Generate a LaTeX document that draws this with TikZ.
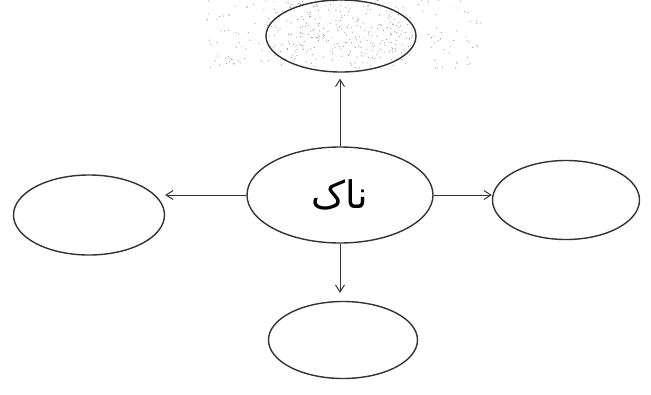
\documentclass[tikz,border=0pt]{standalone}
\usepackage{fontspec}
\usepackage{tikz}
\usetikzlibrary{shapes.geometric, arrows.meta, calc}
\newfontfamily\arabicfont[Script=Arabic]{DejaVu Sans}
\TeXXeTstate=1
\definecolor{inkgray}{HTML}{333333}
\tikzset{>={Straight Barb[length=7pt,width=9pt]}}
\tikzset{
  bubble/.style={draw=inkgray, line width=1.4pt, ellipse, inner sep=0pt},
  link/.style={->, draw=inkgray, line width=1pt}
}

\begin{document}
\begin{tikzpicture}[x=1pt, y=-1pt]
  \useasboundingbox (0,0) rectangle (651,394);
  % dust over the top bubble
  \pgfmathsetseed{7}
  \foreach \i in {1,...,260}{
    \pgfmathsetmacro{\px}{341+rand*140}
    \pgfmathsetmacro{\py}{28+rand*40}
    \fill[gray!75] (\px,\py) circle (0.6pt);
  }
  \foreach \i in {1,...,180}{
    \pgfmathsetmacro{\px}{341+rand*65}
    \pgfmathsetmacro{\py}{30+rand*30}
    \fill[gray!80] (\px,\py) circle (0.6pt);
  }
  \node[bubble, minimum width=150pt, minimum height=72pt] (top) at (341,36) {};
  \node[bubble, minimum width=186pt, minimum height=96pt] (nose) at (340,195)
    {\fontsize{38}{44}\selectfont\arabicfont\beginR ناک\endR};
  \node[bubble, minimum width=151pt, minimum height=80pt] (left) at (89,215) {};
  \node[bubble, minimum width=147pt, minimum height=79pt] (right) at (566,200) {};
  \node[bubble, minimum width=149pt, minimum height=77pt] (bottom) at (343,340) {};
  % links
  \draw[link] (nose.west) -- (left.east |- nose.west);
  \draw[link] (nose.east) -- (right.west |- nose.east);
  \draw[link, shorten >=6pt] (nose.north) -- (top.south -| nose.north);
  \draw[link, shorten >=8pt] (nose.south) -- (bottom.north -| nose.south);
\end{tikzpicture}
\end{document}
